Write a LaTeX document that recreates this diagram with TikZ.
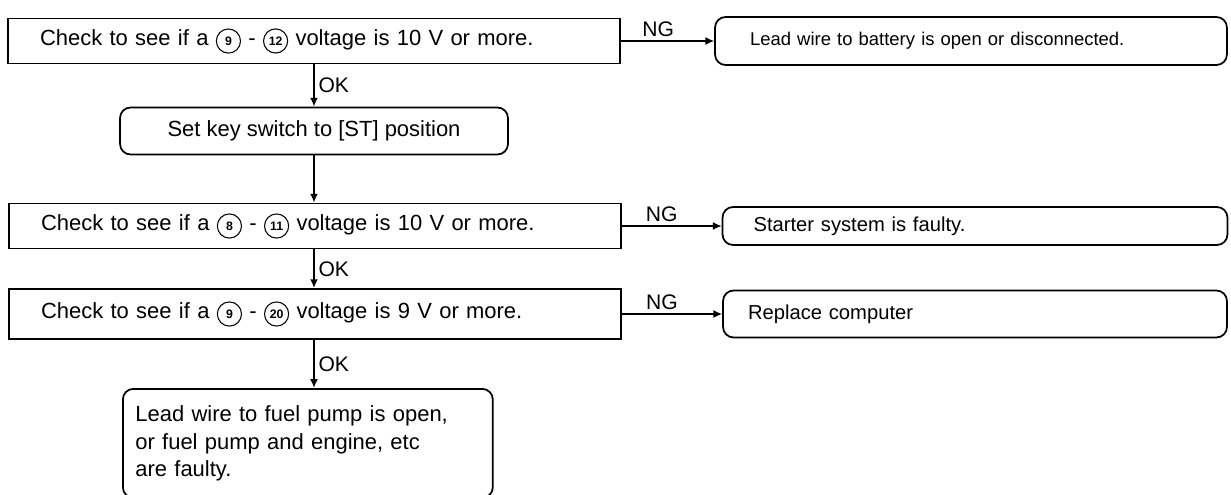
\documentclass[tikz,border=0pt]{standalone}
\usepackage{fontspec}
\setmainfont{Liberation Sans}
\usepackage{tikz}
\usetikzlibrary{arrows.meta, positioning}
% circled terminal number
\newcommand{\term}[1]{\tikz[baseline=(tc.base)]\node[circle, draw,
  line width=0.6pt, inner sep=0.3pt, minimum size=1.1em,
  font=\fontsize{7}{7}\selectfont\bfseries] (tc) {#1};}

\begin{document}
\begin{tikzpicture}[
  x=0.02cm, y=-0.02cm,
  font=\fontsize{12.5}{15.5}\selectfont,
  checkbox/.style={rectangle, draw, line width=1pt, minimum width=12.24cm,
                   minimum height=0.9cm, text width=10.96cm,
                   inner xsep=0.64cm, align=left},
  resultbox/.style={rectangle, rounded corners=6pt, draw, line width=1pt,
                    minimum width=10.24cm, minimum height=0.96cm,
                    text width=8.84cm, inner xsep=0.7cm, align=left},
  arrow/.style={-{Latex[length=5pt, width=4.5pt]}, line width=1.2pt},
  ngarrow/.style={-{Latex[length=5pt, width=4.5pt]}, line width=0.8pt},
  tag/.style={font=\fontsize{12}{14}\selectfont, inner sep=2pt},
]
\useasboundingbox (0,0) rectangle (1231,494);

% Check steps
\node[checkbox] (chk1) at (314,41)
  {Check to see if a \term{9} - \term{12} voltage is 10 V or more.};
\node[rectangle, rounded corners=6pt, draw, line width=1pt,
      minimum width=7.76cm, minimum height=0.94cm] (key) at (314,131)
  {Set key switch to [ST] position};
\node[checkbox] (chk2) at (315,226)
  {Check to see if a \term{8} - \term{11} voltage is 10 V or more.};
\node[checkbox, minimum height=1cm] (chk3) at (315,314)
  {Check to see if a \term{9} - \term{20} voltage is 9 V or more.};

% Results
\node[resultbox, font=\fontsize{10.5}{13}\selectfont] (res1) at (971,41)
  {Lead wire to battery is open or disconnected.};
\node[resultbox, minimum width=10.1cm, minimum height=0.76cm,
      text width=8.86cm, inner xsep=0.62cm,
      font=\fontsize{11.5}{14}\selectfont] (res2) at (975,226)
  {Starter system is faulty.};
\node[resultbox, minimum width=10.08cm, minimum height=0.94cm,
      text width=9.08cm, inner xsep=0.5cm,
      font=\fontsize{11.5}{14}\selectfont] (res3) at (975,314)
  {Replace computer};
\node[rectangle, rounded corners=6pt, draw, line width=1pt,
      text width=6.9cm, inner xsep=0.25cm, inner ysep=0.34cm,
      align=left, anchor=north west] (fuel) at (122,388)
  {Lead wire to fuel pump is open,\\
   or fuel pump and engine, etc\\
   are faulty.};

% OK path
\draw[arrow] (chk1.south -| key.north) -- node[right, tag] {OK} (key.north);
\draw[arrow] (key.south) -- (key.south |- chk2.north);
\draw[arrow] (chk2.south -| key.south) -- node[right, tag] {OK}
  (key.south |- chk3.north);
\draw[arrow] (chk3.south -| key.south) -- node[right, tag] {OK}
  (key.south |- fuel.north);

% NG branches
\draw[ngarrow] (chk1.east) -- node[above, tag, pos=0.4] {NG} (res1.west);
\draw[ngarrow] (chk2.east) -- node[above, tag, pos=0.4] {NG} (res2.west);
\draw[ngarrow] (chk3.east) -- node[above, tag, pos=0.4] {NG} (res3.west);

\end{tikzpicture}
\end{document}
